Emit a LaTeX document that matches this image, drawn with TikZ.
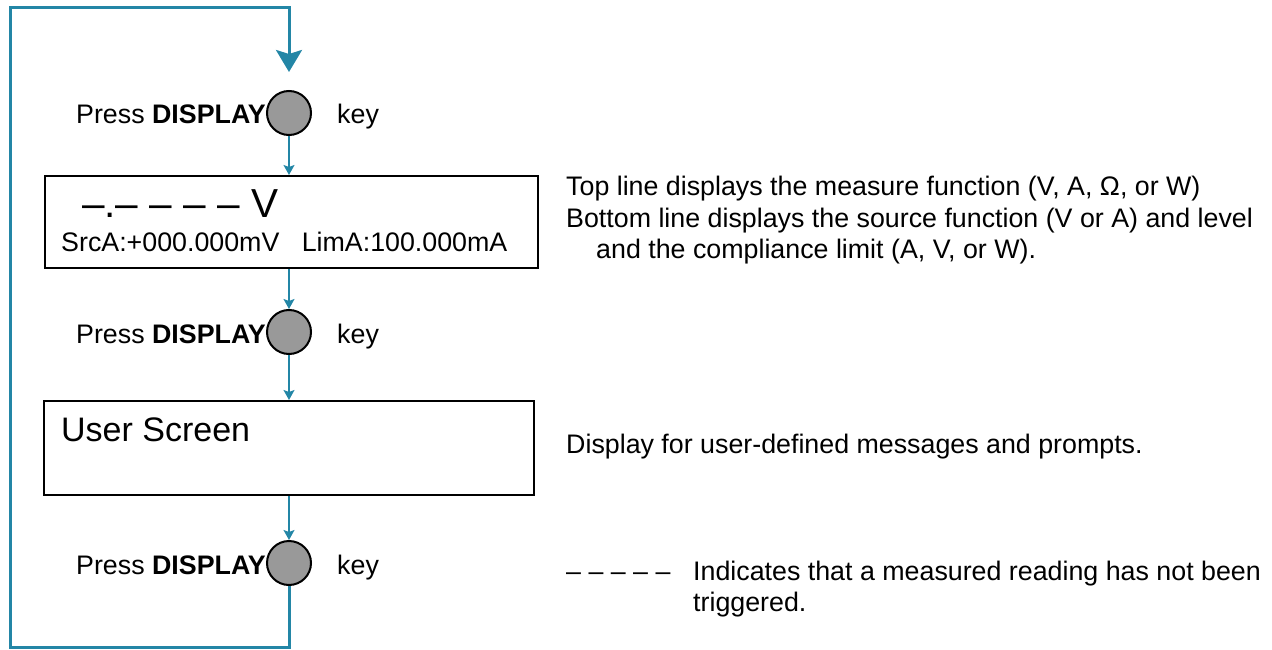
\documentclass[tikz,border=0pt]{standalone}
\usepackage{fontspec}
\setmainfont{Liberation Sans}
\usetikzlibrary{arrows.meta}
\definecolor{loopc}{RGB}{35,134,166}
\begin{document}
\begin{tikzpicture}[x=1pt,y=-1pt,
  keybtn/.style={circle,draw=black,line width=2pt,fill=black!40,minimum size=44pt,inner sep=0pt},
  screen/.style={draw=black,line width=2pt,rectangle,inner sep=0pt,anchor=north west},
  txt/.style={inner sep=0pt,font=\fontsize{26.8}{31}\selectfont},
  flow/.style={draw=loopc,line width=1.5pt,-{Stealth[length=10pt,width=11pt,inset=2pt]}},
  back/.style={draw=loopc,line width=3pt,line join=miter},
]
\useasboundingbox (0,0) rectangle (1272,650);

% keys
\node[keybtn] (k1) at (289,113) {};
\node[keybtn] (k2) at (289,332) {};
\node[keybtn] (k3) at (289,563) {};

\node[txt,anchor=base east] (p1) at (266,124) {Press \textbf{DISPLAY}};
\node[txt,anchor=base west] (y1) at (337,124) {key};
\node[txt,anchor=base east] (p2) at (266,343) {Press \textbf{DISPLAY}};
\node[txt,anchor=base west] (y2) at (337,343) {key};
\node[txt,anchor=base east] (p3) at (266,574) {Press \textbf{DISPLAY}};
\node[txt,anchor=base west] (y3) at (337,574) {key};

% screens
\node[screen,minimum width=493pt,minimum height=92pt] (s1) at (44,175) {};
\node[txt,anchor=base west,font=\fontsize{40.5}{44}\selectfont] (s1a) at (82,217) {–.– – – – V};
\node[txt,anchor=base west] (s1b) at (61,251) {SrcA:+000.000mV\ \ \ LimA:100.000mA};

\node[screen,minimum width=490pt,minimum height=94pt] (s2) at (43,400) {};
\node[txt,anchor=base west,font=\fontsize{34}{38}\selectfont] (s2a) at (61,441) {User Screen};

% flow arrows
\draw[flow] (k1.south) -- (k1.south |- s1.north);
\draw[flow] (k1.south |- s1.south) -- (k2.north);
\draw[flow] (k2.south) -- (k2.south |- s2.north);
\draw[flow] (k2.south |- s2.south) -- (k3.north);

% loop back
\coordinate (bl) at (10.5,647);
\coordinate (tl) at (10.5,7.5);
\coordinate (tip) at (289,72);
\draw[back,-{Stealth[length=22pt,width=26pt,inset=4pt]}] (k3.south) |- (bl) -- (tl) -| (tip);

% descriptions
\node[txt,anchor=base west] (d1) at (566,196) {Top line displays the measure function (V, A, Ω, or W)};
\node[txt,anchor=base west] (d2) at (566,227) {Bottom line displays the source function (V or A) and level};
\node[txt,anchor=base west] (d3) at (596,258) {and the compliance limit (A, V, or W).};
\node[txt,anchor=base west] (d4) at (566,453) {Display for user-defined messages and prompts.};
\node[txt,anchor=base west] (d5) at (566,580) {– – – – –};
\node[txt,anchor=base west] (d6) at (693,580) {Indicates that a measured reading has not been};
\node[txt,anchor=base west] (d7) at (693,611) {triggered.};
\end{tikzpicture}
\end{document}
